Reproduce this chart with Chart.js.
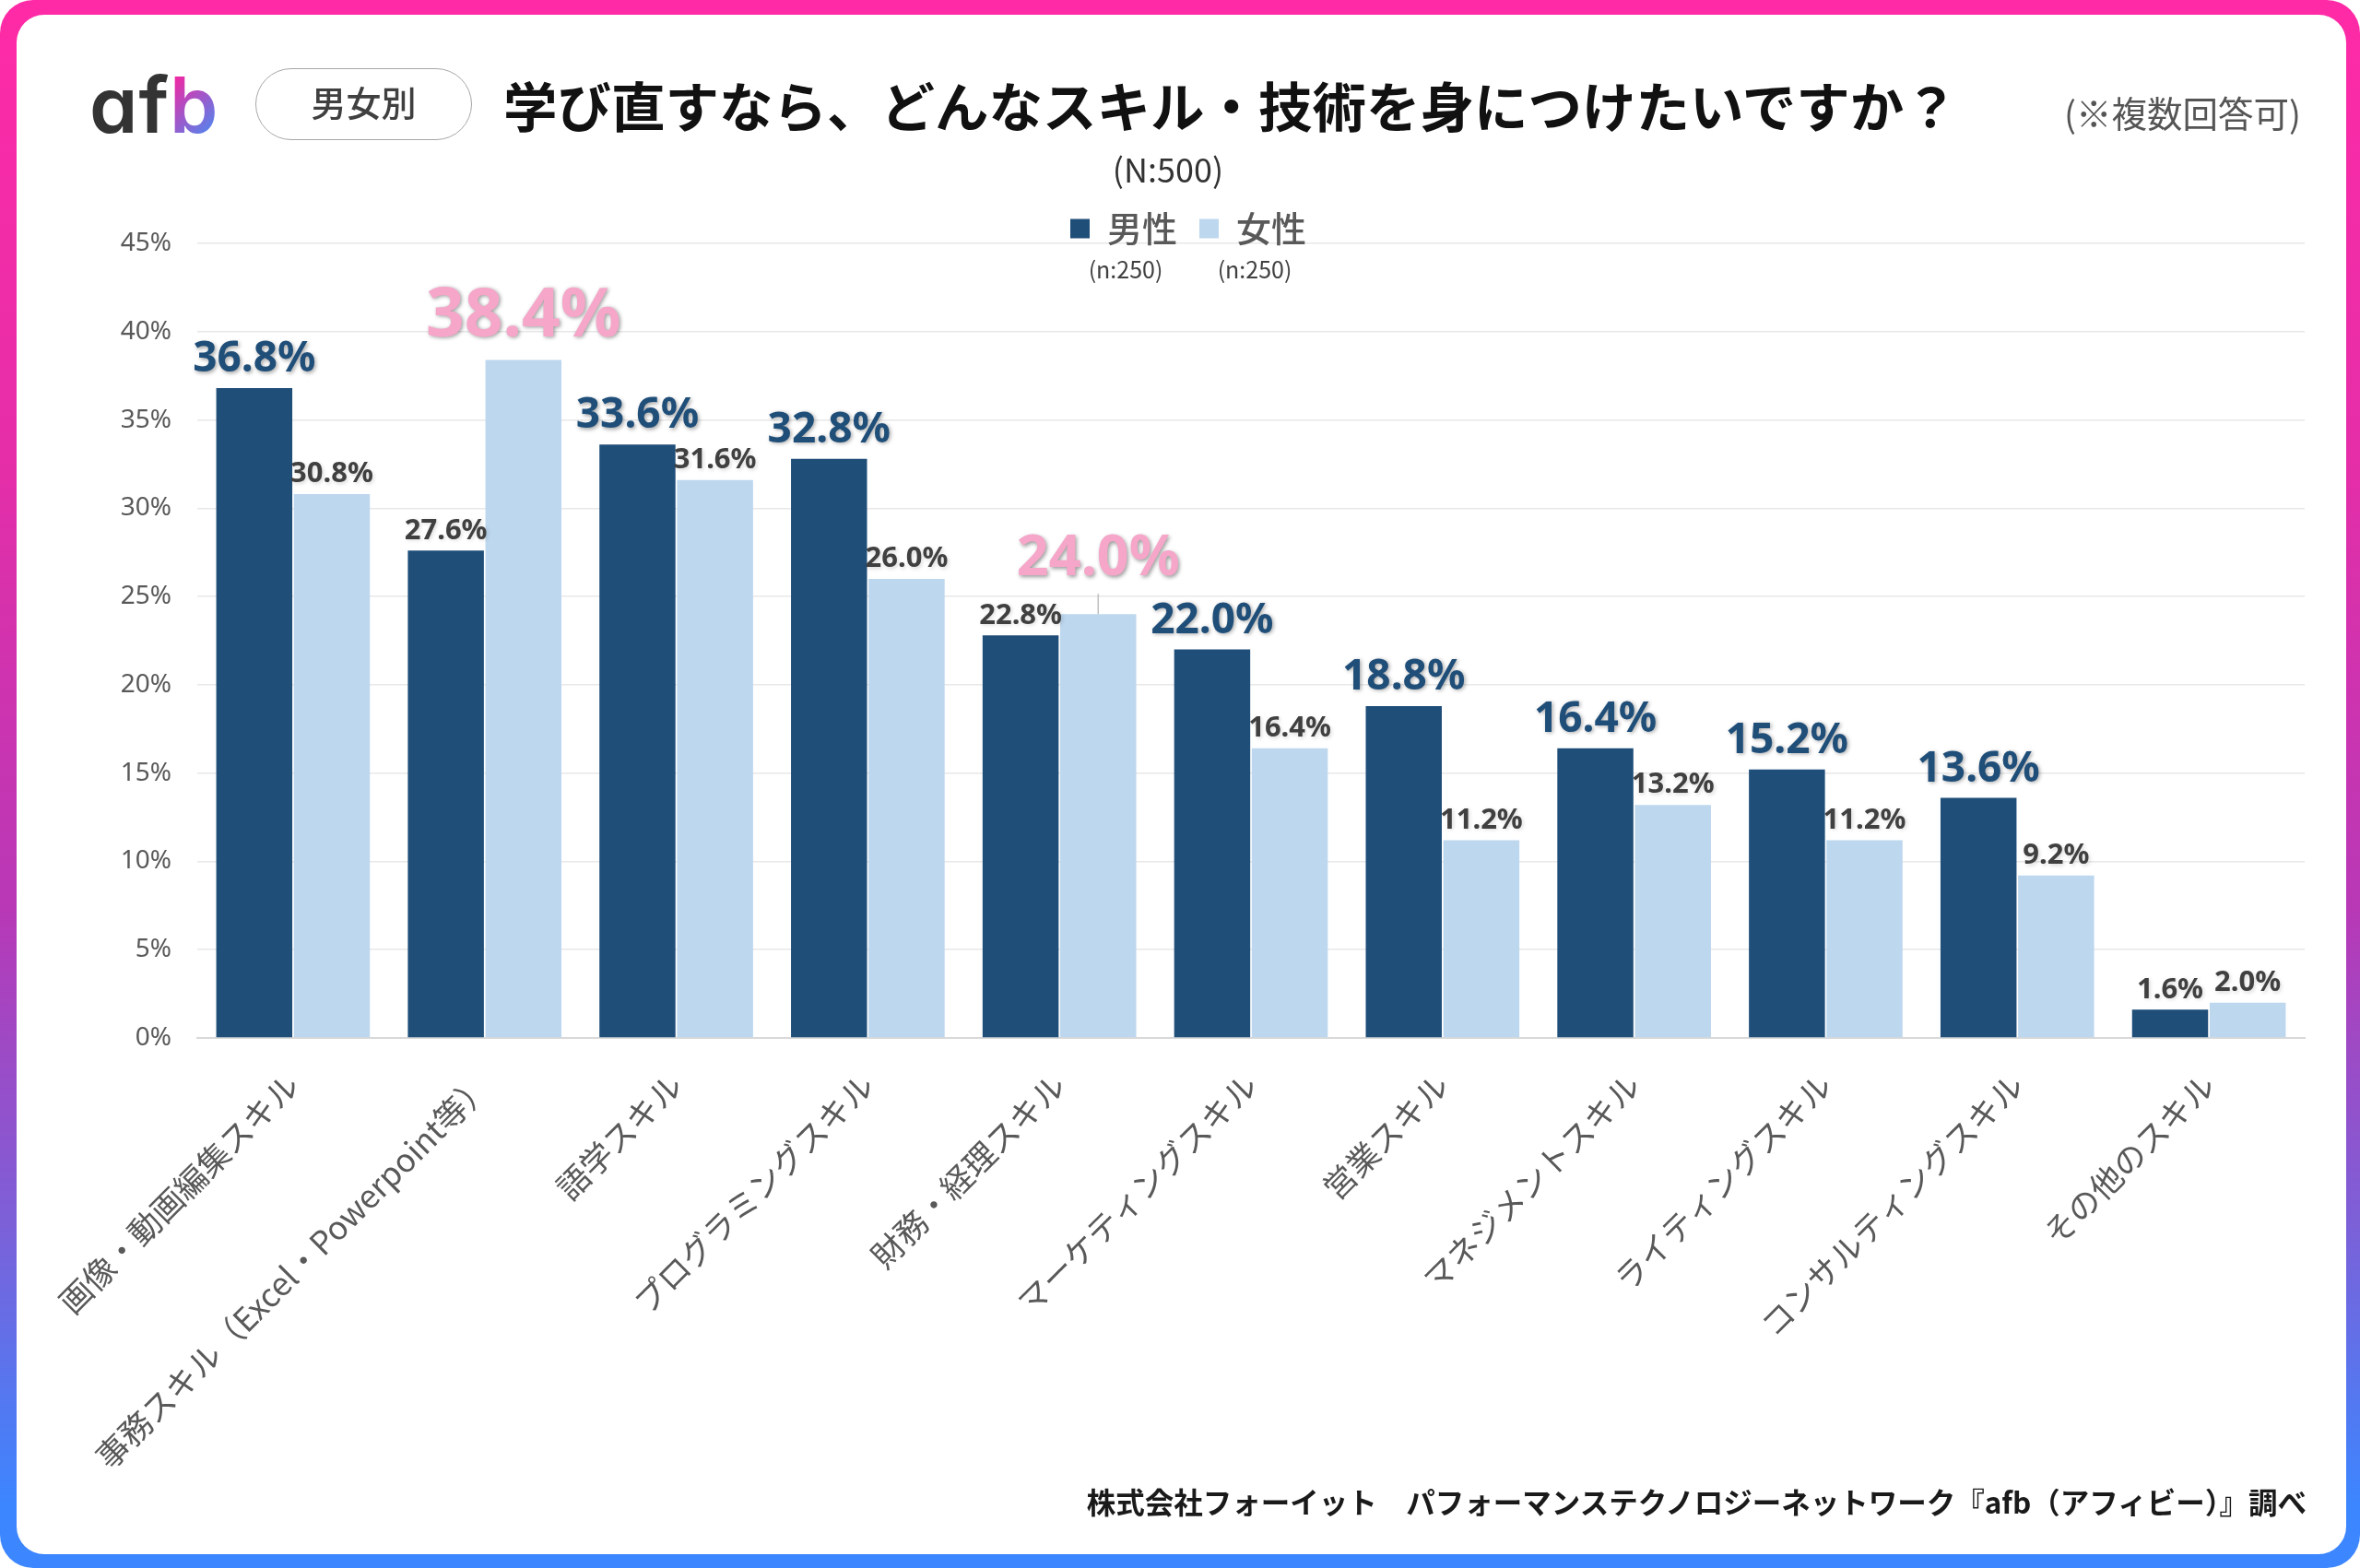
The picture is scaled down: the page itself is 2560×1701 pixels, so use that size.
<!DOCTYPE html>
<html lang="ja">
<head>
<meta charset="utf-8">
<title>学び直すなら、どんなスキル・技術を身につけたいですか？</title>
<script src="https://cdn.jsdelivr.net/npm/chart.js@4"></script>
<style>
html, body { margin: 0; padding: 0; background: #fff; }
body { width: 2560px; height: 1701px; position: relative; overflow: hidden; font-family: "Noto Sans CJK JP", "Noto Sans", sans-serif; }
#frame { position: absolute; left: 0; top: 0; width: 2560px; height: 1701px; border-radius: 36px; background: linear-gradient(180deg, #ff2aa6 0%, #e42ea8 30%, #b838b6 58%, #7c60d8 78%, #3c86ff 96%); }
#panel { position: absolute; left: 18px; top: 16px; width: 2527px; height: 1670px; border-radius: 30px; background: #fff; }
#c { position: absolute; left: 0; top: 0; }
.t { position: absolute; white-space: nowrap; line-height: 1; }
#logo { left: 97px; top: 63px; font: 600 84px Inter, sans-serif; font-feature-settings: "cv11"; color: #333; letter-spacing: 1px; }
#logo b { font-weight: 600; background: linear-gradient(135deg, #ea2ca6 20%, #4a8af2 85%); -webkit-background-clip: text; background-clip: text; color: transparent; }
#badge { left: 277px; top: 74px; width: 235px; height: 78px; border: 1.5px solid #a6a6a6; border-radius: 39px; box-sizing: border-box; text-align: center; line-height: 70px; font-size: 38px; font-weight: 500; color: #404040; }
#title { left: 546px; top: 84px; font-size: 58.5px; font-weight: 700; color: #111; }
#note { right: 64px; top: 102px; font-size: 38.5px; color: #555; }
#sample { left: 1267px; top: 164px; transform: translateX(-50%); font-size: 36px; color: #333; }
#source { right: 58px; top: 1613px; font-size: 31.5px; font-weight: 700; color: #1a1a1a; }
</style>
</head>
<body>
<div id="frame"></div>
<div id="panel"></div>
<canvas id="c" width="2560" height="1701"></canvas>
<div class="t" id="logo">af<b>b</b></div>
<div class="t" id="badge">男女別</div>
<div class="t" id="title">学び直すなら、どんなスキル・技術を身につけたいですか？</div>
<div class="t" id="note">(※複数回答可)</div>
<div class="t" id="sample">(N:500)</div>
<div class="t" id="source">株式会社フォーイット　パフォーマンステクノロジーネットワーク『afb（アフィビー）』調べ</div>
<script>
const categories = ['画像・動画編集スキル', '事務スキル（Excel・Powerpoint等）', '語学スキル', 'プログラミングスキル', '財務・経理スキル', 'マーケティングスキル', '営業スキル', 'マネジメントスキル', 'ライティングスキル', 'コンサルティングスキル', 'その他のスキル'];
const maleValues = [36.8, 27.6, 33.6, 32.8, 22.8, 22.0, 18.8, 16.4, 15.2, 13.6, 1.6];
const femaleValues = [30.8, 38.4, 31.6, 26.0, 24.0, 16.4, 11.2, 13.2, 11.2, 9.2, 2.0];
const seriesNames = ['男性', '女性'];
const seriesCounts = ['(n:250)', '(n:250)'];
const yTickLabels = ['0%', '5%', '10%', '15%', '20%', '25%', '30%', '35%', '40%', '45%'];

const BLUE = '#1f4e79', LIGHT = '#bdd7ee', PINK = '#f5a6c9';
const LABEL_FONT = '"Noto Sans", "Noto Sans CJK JP", sans-serif';

// which label gets the big treatment, the last category stays plain
function labelStyle(ds, i) {
  const v = ds === 0 ? maleValues[i] : femaleValues[i];
  const other = ds === 0 ? femaleValues[i] : maleValues[i];
  if (i === categories.length - 1 || v < other) return { size: 31, color: '#404040', gap: 6, shadow: 'rgba(0,0,0,0.15)' };
  if (ds === 0) return { size: 46, color: BLUE, gap: 8, shadow: 'rgba(0,0,0,0.35)' };
  if (v > 30) return { size: 73, color: PINK, gap: 10, shadow: 'rgba(0,0,0,0.4)' };
  return { size: 61, color: PINK, gap: 29, shadow: 'rgba(0,0,0,0.4)', leader: true };
}

const valueLabels = {
  id: 'valueLabels',
  afterDatasetsDraw(chart) {
    const ctx = chart.ctx;
    chart.data.datasets.forEach((ds, d) => {
      chart.getDatasetMeta(d).data.forEach((bar, i) => {
        const st = labelStyle(d, i);
        ctx.save();
        if (st.leader) {
          ctx.strokeStyle = '#bfbfbf';
          ctx.lineWidth = 1.5;
          ctx.beginPath();
          ctx.moveTo(bar.x, bar.y);
          ctx.lineTo(bar.x, bar.y - st.gap + 7);
          ctx.stroke();
        }
        ctx.font = '700 ' + st.size + 'px ' + LABEL_FONT;
        ctx.fillStyle = st.color;
        ctx.textAlign = 'center';
        ctx.textBaseline = 'bottom';
        ctx.shadowColor = st.shadow;
        ctx.shadowBlur = 4;
        ctx.shadowOffsetX = 1.5;
        ctx.shadowOffsetY = 1.5;
        ctx.fillText(ds.data[i].toFixed(1) + '%', bar.x, bar.y - st.gap);
        ctx.restore();
      });
    });
  }
};

// legend sits over the top gridline and centres on the page, not on the plot
const legendPlace = {
  id: 'legendPlace',
  afterLayout(chart) {
    const lg = chart.legend;
    const dx = 1289 - (lg.left + lg.right) / 2, dy = 13;
    lg.left += dx; lg.right += dx; lg.top += dy; lg.bottom += dy;
    lg.legendHitBoxes.forEach(b => { b.left += dx; b.top += dy; });
  },
  afterDraw(chart) {
    const ctx = chart.ctx;
    ctx.save();
    ctx.font = '25px "Noto Sans CJK JP", sans-serif';
    ctx.fillStyle = '#404040';
    ctx.textAlign = 'center';
    ctx.textBaseline = 'middle';
    chart.legend.legendHitBoxes.forEach((b, i) => {
      ctx.fillText(seriesCounts[i], b.left + b.width / 2 + 2, 292);
    });
    ctx.restore();
  }
};

new Chart(document.getElementById('c'), {
  type: 'bar',
  plugins: [valueLabels, legendPlace],
  data: {
    labels: categories,
    datasets: [
      { label: seriesNames[0], data: maleValues, backgroundColor: BLUE },
      { label: seriesNames[1], data: femaleValues, backgroundColor: LIGHT }
    ]
  },
  options: {
    responsive: false,
    devicePixelRatio: 1,
    animation: false,
    layout: { padding: { top: 192, right: 60, left: 0, bottom: 0 } },
    datasets: { bar: { categoryPercentage: 0.81, barPercentage: 0.98 } },
    plugins: {
      tooltip: { enabled: false },
      title: { display: false },
      legend: {
        position: 'top',
        align: 'center',
        labels: {
          boxWidth: 21, boxHeight: 21, padding: 24,
          color: '#595959',
          font: { size: 38, weight: '500', family: '"Noto Sans CJK JP", sans-serif' }
        }
      }
    },
    scales: {
      x: {
        afterFit(s) { s.height = 575; },
        grid: { display: false, drawTicks: false },
        border: { color: '#d9d9d9', width: 2 },
        ticks: {
          autoSkip: false, minRotation: 45, maxRotation: 45, padding: 30,
          color: '#595959',
          font: { size: 35, family: '"Noto Sans CJK JP", sans-serif' }
        }
      },
      y: {
        min: 0, max: 45,
        afterFit(s) { s.width = 214; },
        grid: { color: '#e8e8e8', lineWidth: 1.5, drawTicks: false },
        border: { display: false },
        ticks: {
          stepSize: 5, padding: 28,
          color: '#595959',
          font: { size: 28, family: '"Noto Sans", sans-serif' },
          callback: (v, i) => yTickLabels[i]
        }
      }
    }
  }
});
</script>
</body>
</html>
